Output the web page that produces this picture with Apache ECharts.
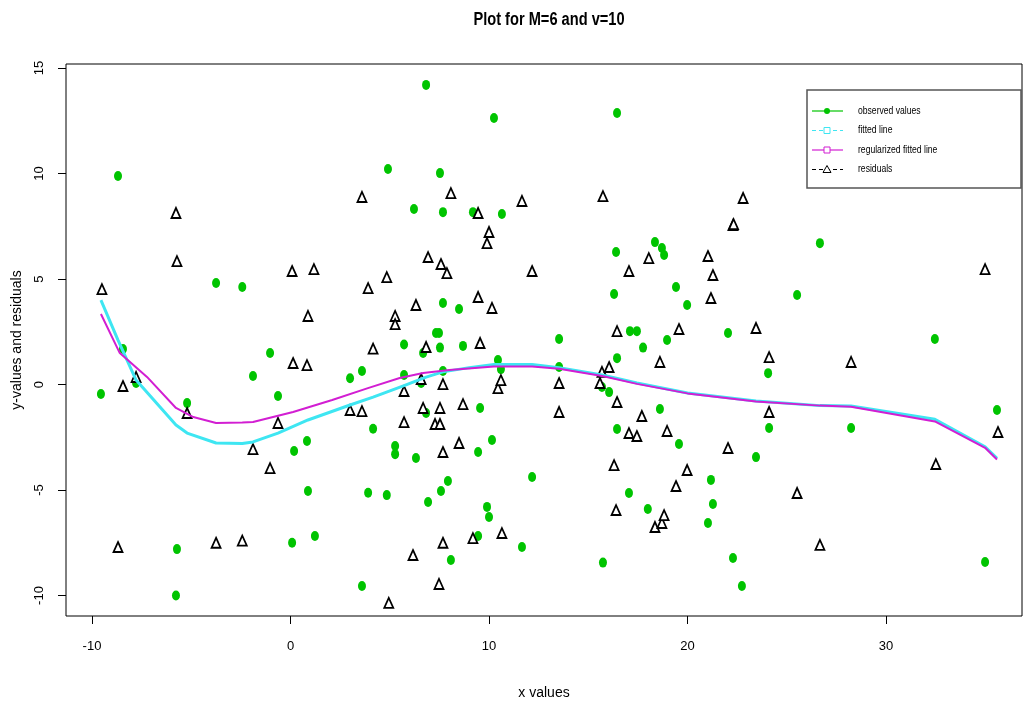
<!DOCTYPE html>
<html>
<head>
<meta charset="utf-8">
<script src="https://cdn.jsdelivr.net/npm/echarts@6/dist/echarts.min.js"></script>
<style>html,body{margin:0;padding:0;background:#fff;}#c{width:1024px;height:707px;}</style>
</head>
<body>
<div id="c"></div>
<script>
// ---- data ----
var xTicks = [-10, 0, 10, 20, 30];
var yTicks = [-10, -5, 0, 5, 10, 15];

var obsX = [-9.55,-8.69,-8.44,-7.78,-5.77,-5.72,-5.21,-3.75,-2.43,-1.89,-1.03,-0.63,0.08,0.18,0.83,0.88,1.23,3.0,3.6,3.6,3.91,4.16,4.85,4.91,5.27,5.27,5.72,5.72,6.22,6.32,6.58,6.68,6.83,6.83,6.93,7.33,7.48,7.53,7.53,7.58,7.68,7.68,7.68,7.93,8.08,8.49,8.69,9.19,9.45,9.45,9.55,9.9,10.0,10.15,10.25,10.45,10.6,10.65,11.66,12.17,13.53,13.53,15.69,15.74,16.05,16.3,16.4,16.45,16.45,16.45,17.05,17.1,17.45,17.76,18.0,18.36,18.61,18.71,18.82,18.97,19.42,19.57,19.98,21.03,21.18,21.28,22.04,22.29,22.74,23.45,24.06,24.11,25.52,26.67,28.24,32.46,34.99,35.59];
var obsY = [-0.45,9.88,1.68,0.07,-10.0,-7.8,-0.88,4.81,4.62,0.40,1.49,-0.54,-7.5,-3.15,-2.68,-5.05,-7.18,0.3,0.64,-9.55,-5.13,-2.1,-5.24,10.21,-2.91,-3.3,1.9,0.45,8.32,-3.48,0.07,1.49,14.2,-1.35,-5.57,2.44,2.44,10.02,1.75,-5.05,8.17,3.86,0.64,-4.57,-8.32,3.58,1.83,8.17,-3.2,-7.18,-1.11,-5.8,-6.28,-2.63,12.63,1.16,0.73,8.08,-7.7,-4.38,2.16,0.83,-0.12,-8.44,-0.36,4.29,6.28,12.87,1.25,-2.11,-5.14,2.53,2.53,1.75,-5.9,6.75,-1.16,6.47,6.14,2.11,4.62,-2.82,3.77,-6.56,-4.52,-5.66,2.44,-8.22,-9.55,-3.44,0.54,-2.06,4.24,6.7,-2.06,2.16,-8.41,-1.21];

var resX = [-9.5,-8.69,-8.44,-7.78,-5.77,-5.72,-5.21,-3.75,-2.43,-1.89,-1.03,-0.63,0.08,0.13,0.83,0.88,1.18,3.0,3.6,3.6,3.91,4.16,4.85,4.95,5.27,5.27,5.72,5.72,6.17,6.32,6.58,6.68,6.83,6.93,7.28,7.48,7.53,7.53,7.58,7.68,7.68,7.68,7.88,8.08,8.49,8.69,9.19,9.45,9.45,9.55,9.9,10.0,10.15,10.45,10.6,10.65,11.66,12.17,13.53,13.53,15.59,15.69,15.74,16.05,16.3,16.4,16.45,16.45,17.05,17.05,17.45,17.7,18.05,18.36,18.61,18.71,18.82,18.97,19.42,19.57,19.98,21.03,21.18,21.28,22.04,22.29,22.32,22.8,23.45,24.11,24.11,25.52,26.67,28.24,32.51,34.99,35.64];
var resY = [4.52,-7.7,-0.07,0.36,8.13,5.85,-1.35,-7.5,-7.4,-3.06,-3.96,-1.82,5.38,1.02,0.92,3.25,5.47,-1.21,-1.26,8.89,4.57,1.7,5.09,-10.35,3.25,2.86,-0.31,-1.78,-8.08,3.77,0.26,-1.11,1.78,6.04,-1.87,-9.45,-1.11,-1.87,5.71,0.02,-3.2,-7.5,5.28,9.07,-2.77,-0.93,-7.28,8.13,4.15,1.97,6.7,7.23,3.63,-0.17,0.21,-7.04,8.7,5.38,0.07,-1.3,0.07,0.6,8.93,0.83,-3.82,-5.95,2.53,-0.83,5.38,-2.3,-2.44,-1.49,5.99,-6.75,1.07,-6.56,-6.19,-2.2,-4.81,2.63,-4.05,6.09,4.1,5.19,-3.01,7.56,7.6,8.84,2.68,1.3,-1.3,-5.14,-7.6,1.07,-3.77,5.47,-2.25];

var fitX = [-9.55,-8.69,-7.78,-5.77,-5.21,-3.75,-2.43,-1.89,-0.63,0.88,3.0,4.16,5.72,6.83,7.68,9.0,10.25,12.17,13.53,15.7,17.45,20.0,23.45,26.67,28.24,32.46,34.99,35.59];
var fitY = [4.0,2.1,0.21,-1.92,-2.3,-2.77,-2.8,-2.72,-2.3,-1.68,-0.97,-0.6,-0.05,0.35,0.6,0.8,0.95,0.95,0.8,0.45,0.07,-0.4,-0.78,-1.0,-1.02,-1.65,-2.95,-3.5];

var regX = [-9.55,-8.6,-7.23,-5.77,-4.9,-3.75,-2.43,-1.89,0.13,2.1,3.9,5.5,6.68,8.0,10.25,12.17,13.53,15.7,17.45,20.0,23.45,26.67,28.24,32.46,34.99,35.59];
var regY = [3.34,1.49,0.36,-1.11,-1.54,-1.82,-1.8,-1.78,-1.3,-0.73,-0.17,0.31,0.55,0.69,0.85,0.85,0.75,0.4,0.03,-0.42,-0.8,-1.0,-1.05,-1.75,-3.0,-3.55];

var titleText = 'Plot for M=6 and v=10';
var legendLabels = ['observed values', 'fitted line', 'regularized fitted line', 'residuals'];

// ---- build chart ----
function pairs(xs, ys) { return xs.map(function (x, i) { return [x, ys[i]]; }); }

var GREEN = '#00c400', CYAN = '#3ee6f2', MAGENTA = '#d21ed2';
var sans = "'Liberation Sans', Arial, sans-serif";

var lx = 812, ly = 111, lstep = 19.5;
var graphic = [
  { type: 'text', z: 103, x: 549, y: 20, scaleX: 0.86, scaleY: 1.05,
    style: { text: titleText, fill: '#000', font: "bold 17px " + sans, textAlign: 'center', textVerticalAlign: 'middle' } },
  { type: 'rect', z: 100, shape: { x: 807, y: 90, width: 214, height: 98 }, style: { fill: '#fff', stroke: '#555', lineWidth: 1.5 } },
  { type: 'line', z: 101, shape: { x1: lx, y1: ly, x2: lx + 31, y2: ly }, style: { stroke: GREEN, lineWidth: 1.2 } },
  { type: 'circle', z: 102, shape: { cx: lx + 15, cy: ly, r: 3 }, style: { fill: GREEN } },
  { type: 'line', z: 101, shape: { x1: lx, y1: ly + lstep, x2: lx + 31, y2: ly + lstep }, style: { stroke: CYAN, lineWidth: 1.2, lineDash: [4, 3] } },
  { type: 'rect', z: 102, shape: { x: lx + 12, y: ly + lstep - 3, width: 6, height: 6 }, style: { fill: '#fff', stroke: CYAN, lineWidth: 1 } },
  { type: 'line', z: 101, shape: { x1: lx, y1: ly + 2 * lstep, x2: lx + 31, y2: ly + 2 * lstep }, style: { stroke: MAGENTA, lineWidth: 1.2 } },
  { type: 'rect', z: 102, shape: { x: lx + 12, y: ly + 2 * lstep - 3, width: 6, height: 6 }, style: { fill: '#fff', stroke: MAGENTA, lineWidth: 1 } },
  { type: 'line', z: 101, shape: { x1: lx, y1: ly + 3 * lstep, x2: lx + 31, y2: ly + 3 * lstep }, style: { stroke: '#000', lineWidth: 1, lineDash: [4, 3] } },
  { type: 'polygon', z: 102, shape: { points: [[lx + 11, ly + 3 * lstep + 3], [lx + 19, ly + 3 * lstep + 3], [lx + 15, ly + 3 * lstep - 4]] }, style: { fill: '#fff', stroke: '#000', lineWidth: 1 } }
];
legendLabels.forEach(function (t, i) {
  graphic.push({ type: 'text', z: 103, x: 858, y: ly + i * lstep, scaleX: 0.86,
    style: { text: t, fill: '#000', font: "10px " + sans, textVerticalAlign: 'middle' } });
});

var chart = echarts.init(document.getElementById('c'), null, { renderer: 'canvas' });
chart.setOption({
  animation: false,
  backgroundColor: '#fff',
  grid: { left: 66, right: 2, top: 64, bottom: 91, show: true, borderColor: '#000', borderWidth: 1, backgroundColor: 'transparent' },
  xAxis: {
    type: 'value', min: -11.31, max: 36.85,
    splitLine: { show: false },
    axisLine: { show: false, onZero: false },
    axisTick: { show: true, length: 8, customValues: xTicks, lineStyle: { color: '#000', width: 1 } },
    axisLabel: { customValues: xTicks, margin: 24, fontSize: 13, color: '#000', fontFamily: sans },
    name: 'x values', nameLocation: 'middle', nameGap: 70,
    nameTextStyle: { fontSize: 14, color: '#000', fontFamily: sans }
  },
  yAxis: {
    type: 'value', min: -10.97, max: 15.19,
    splitLine: { show: false },
    axisLine: { show: false, onZero: false },
    axisTick: { show: true, length: 8, customValues: yTicks, lineStyle: { color: '#000', width: 1 } },
    axisLabel: { customValues: yTicks, rotate: 90, margin: 20, fontSize: 13, color: '#000', fontFamily: sans },
    name: 'y-values and residuals', nameLocation: 'middle', nameGap: 42,
    nameTextStyle: { fontSize: 14, color: '#000', fontFamily: sans }
  },
  graphic: graphic,
  series: [
    {
      name: 'observed values', type: 'scatter', data: pairs(obsX, obsY),
      symbol: 'circle', symbolSize: [8, 10], itemStyle: { color: GREEN, opacity: 1 }, z: 3
    },
    {
      name: 'residuals', type: 'scatter', data: pairs(resX, resY),
      symbol: 'triangle', symbolSize: [9, 10],
      itemStyle: { color: '#fff', borderColor: '#000', borderWidth: 1.8, opacity: 1 }, z: 4
    },
    {
      name: 'fitted line', type: 'line', data: pairs(fitX, fitY), showSymbol: false,
      lineStyle: { color: CYAN, width: 3 }, z: 5
    },
    {
      name: 'regularized fitted line', type: 'line', data: pairs(regX, regY), showSymbol: false,
      lineStyle: { color: MAGENTA, width: 2 }, z: 6
    }
  ]
});
</script>
</body>
</html>
